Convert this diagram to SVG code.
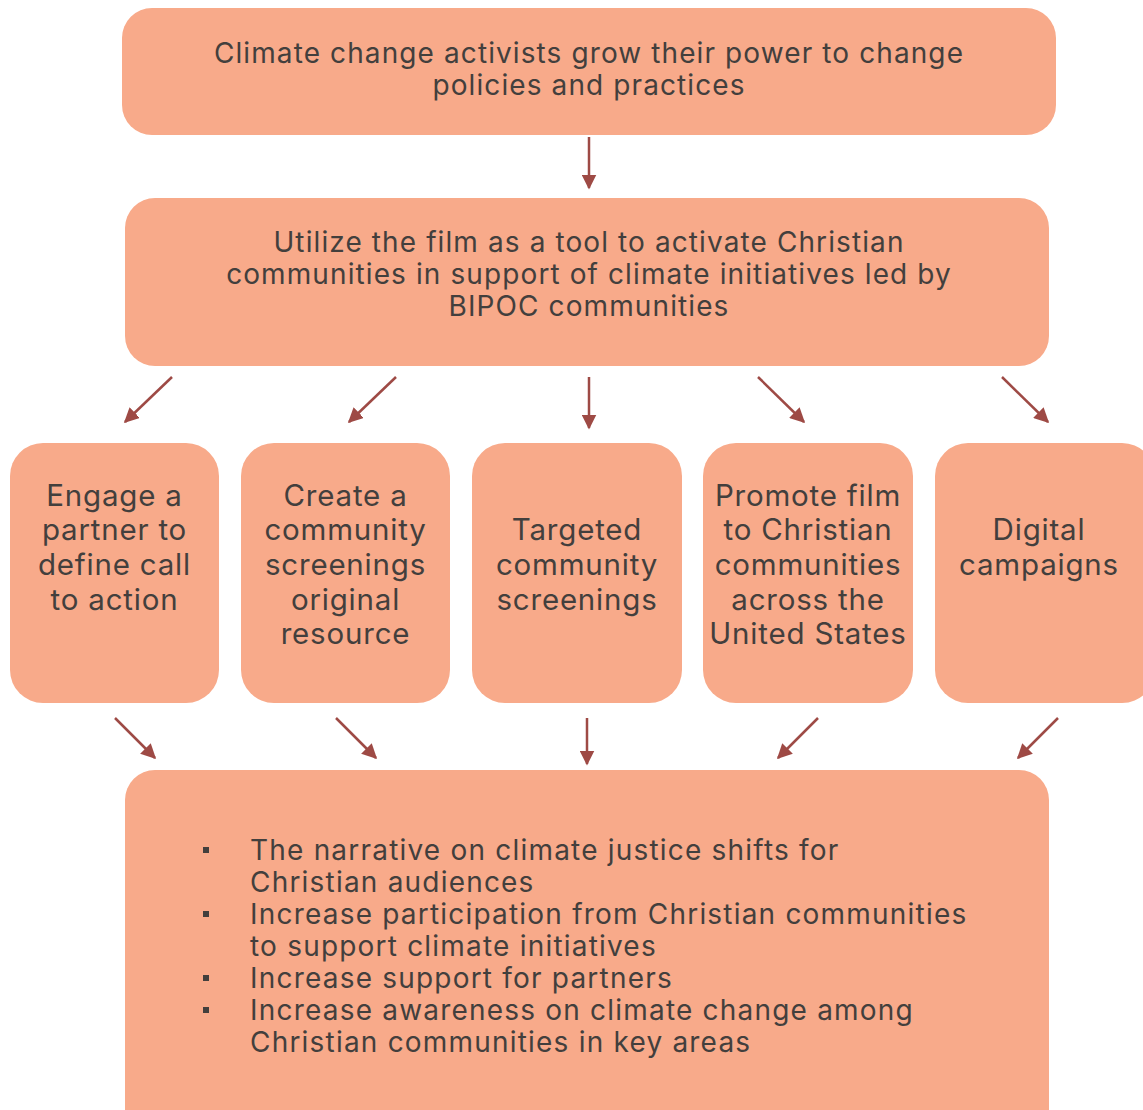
<svg xmlns="http://www.w3.org/2000/svg" width="1143" height="1110" viewBox="0 0 1143 1110">
<defs>
<style>
.box{fill:#F8AA8A;}
.t{font-family:Inter,"Liberation Sans",sans-serif;font-size:28px;letter-spacing:1.1px;fill:#433F3D;text-anchor:middle;}
.r{font-size:29.5px;letter-spacing:0.8px;}
.b{font-family:Inter,"Liberation Sans",sans-serif;font-size:28px;letter-spacing:1.2px;fill:#433F3D;}
.c line{stroke:#9E4A45;stroke-width:2.5;marker-end:url(#ah);}
</style>
<marker id="ah" viewBox="0 0 10 10" refX="9" refY="5" markerWidth="6" markerHeight="6" orient="auto" markerUnits="strokeWidth">
<path d="M0,0 L10,5 L0,10 z" fill="#9E4A45"/>
</marker>
</defs>
<rect width="1143" height="1110" fill="#fff"/>
<g id="n1"><rect class="box" x="122" y="8" width="934" height="127" rx="30"/>
<text class="t" x="589" y="63">Climate change activists grow their power to change</text>
<text class="t" x="589" y="95">policies and practices</text></g>
<g id="n2"><rect class="box" x="125" y="198" width="924" height="168" rx="30"/>
<text class="t" x="589" y="252">Utilize the film as a tool to activate Christian</text>
<text class="t" x="589" y="284">communities in support of climate initiatives led by</text>
<text class="t" x="589" y="316">BIPOC communities</text></g>
<g id="a1"><rect class="box" x="10" y="443" width="209" height="260" rx="33"/>
<text class="t r" x="114.5" y="506">Engage a</text>
<text class="t r" x="114.5" y="540">partner to</text>
<text class="t r" x="114.5" y="575">define call</text>
<text class="t r" x="114.5" y="610">to action</text></g>
<g id="a2"><rect class="box" x="241" y="443" width="209" height="260" rx="33"/>
<text class="t r" x="345.5" y="506">Create a</text>
<text class="t r" x="345.5" y="540">community</text>
<text class="t r" x="345.5" y="575">screenings</text>
<text class="t r" x="345.5" y="610">original</text>
<text class="t r" x="345.5" y="644">resource</text></g>
<g id="a3"><rect class="box" x="472" y="443" width="210" height="260" rx="33"/>
<text class="t r" x="577" y="540">Targeted</text>
<text class="t r" x="577" y="575">community</text>
<text class="t r" x="577" y="610">screenings</text></g>
<g id="a4"><rect class="box" x="703" y="443" width="210" height="260" rx="33"/>
<text class="t r" x="808" y="506">Promote film</text>
<text class="t r" x="808" y="540">to Christian</text>
<text class="t r" x="808" y="575">communities</text>
<text class="t r" x="808" y="610">across the</text>
<text class="t r" x="808" y="644">United States</text></g>
<g id="a5"><rect class="box" x="935" y="443" width="220" height="260" rx="33"/>
<text class="t r" x="1039" y="540">Digital</text>
<text class="t r" x="1039" y="575">campaigns</text></g>
<g id="n3"><rect class="box" x="125" y="770" width="924" height="370" rx="30"/>
<g fill="#433F3D"><rect x="203" y="847" width="6" height="6"/><rect x="203" y="911" width="6" height="6"/><rect x="203" y="975" width="6" height="6"/><rect x="203" y="1007" width="6" height="6"/></g>
<text class="b" x="250" y="860">The narrative on climate justice shifts for</text>
<text class="b" x="250" y="892">Christian audiences</text>
<text class="b" x="250" y="924">Increase participation from Christian communities</text>
<text class="b" x="250" y="956">to support climate initiatives</text>
<text class="b" x="250" y="988">Increase support for partners</text>
<text class="b" x="250" y="1020">Increase awareness on climate change among</text>
<text class="b" x="250" y="1052">Christian communities in key areas</text></g>
<g id="connectors" class="c">
<line x1="589" y1="137" x2="589" y2="188"/>
<line x1="172" y1="377" x2="125" y2="422"/>
<line x1="396" y1="377" x2="349" y2="422"/>
<line x1="589" y1="377" x2="589" y2="428"/>
<line x1="758" y1="377" x2="804" y2="422"/>
<line x1="1002" y1="377" x2="1048" y2="422"/>
<line x1="115" y1="718" x2="155" y2="758"/>
<line x1="336" y1="718" x2="376" y2="758"/>
<line x1="587" y1="718" x2="587" y2="764"/>
<line x1="818" y1="718" x2="778" y2="758"/>
<line x1="1058" y1="718" x2="1018" y2="758"/>
</g>
</svg>
